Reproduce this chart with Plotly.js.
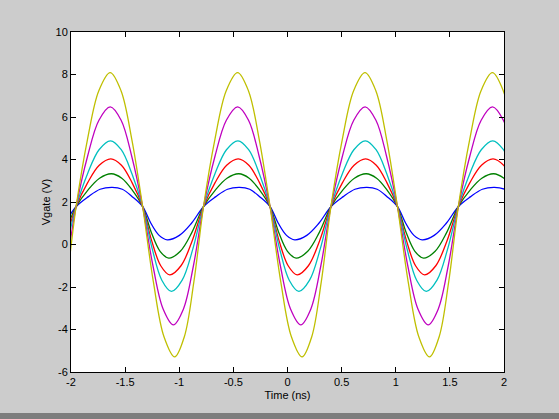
<!DOCTYPE html>
<html>
<head>
<meta charset="utf-8">
<script src="https://cdn.plot.ly/plotly-3.0.1.min.js"></script>
<style>html,body{margin:0;padding:0;background:#cccccc;}#plot{width:559px;height:419px;}</style>
</head>
<body>
<div id="plot"></div>
<script>
// Time (ns) and Vgate (V) samples, one pair per curve
const blueT = [-2.176,-2.064,-1.953,-1.842,-1.731,
  -1.620,-1.526,-1.432,-1.338,-1.262,-1.186,-1.110,-0.999,-0.887,-0.776,-0.665,-0.554,
  -0.443,-0.349,-0.255,-0.161,-0.085,-0.009,0.067,0.178,0.290,0.401,0.512,0.623,
  0.734,0.828,0.922,1.016,1.092,1.168,1.244,1.355,1.467,1.578,1.689,1.800,
  1.911,2.005,2.099];
const blueV = [0.43,1.00,1.78,2.24,2.60,
  2.69,2.60,2.24,1.78,1.00,0.43,0.22,0.43,1.00,1.78,2.24,2.60,
  2.69,2.60,2.24,1.78,1.00,0.43,0.22,0.43,1.00,1.78,2.24,2.60,
  2.69,2.60,2.24,1.78,1.00,0.43,0.22,0.43,1.00,1.78,2.24,2.60,
  2.69,2.60,2.24];

const greenT = [-2.167,-2.060,-1.953,-1.844,-1.736,
  -1.627,-1.531,-1.434,-1.338,-1.258,-1.177,-1.097,-0.990,-0.883,-0.776,-0.667,-0.559,
  -0.450,-0.354,-0.257,-0.161,-0.081,0.000,0.080,0.187,0.294,0.401,0.510,0.618,
  0.727,0.823,0.920,1.016,1.096,1.177,1.257,1.364,1.471,1.578,1.687,1.795,
  1.904,2.000,2.097];
const greenV = [-0.32,0.57,1.78,2.56,3.12,
  3.33,3.12,2.56,1.78,0.57,-0.32,-0.64,-0.32,0.57,1.78,2.56,3.12,
  3.33,3.12,2.56,1.78,0.57,-0.32,-0.64,-0.32,0.57,1.78,2.56,3.12,
  3.33,3.12,2.56,1.78,0.57,-0.32,-0.64,-0.32,0.57,1.78,2.56,3.12,
  3.33,3.12,2.56];

const redT = [-2.161,-2.057,-1.953,-1.846,-1.739,
  -1.632,-1.534,-1.436,-1.338,-1.255,-1.171,-1.088,-0.984,-0.880,-0.776,-0.669,-0.562,
  -0.455,-0.357,-0.259,-0.161,-0.078,0.006,0.089,0.193,0.297,0.401,0.508,0.615,
  0.722,0.820,0.918,1.016,1.099,1.183,1.266,1.370,1.474,1.578,1.685,1.792,
  1.899,1.997,2.095];
const redV = [-1.00,0.18,1.78,2.91,3.73,
  4.03,3.73,2.91,1.78,0.18,-1.00,-1.43,-1.00,0.18,1.78,2.91,3.73,
  4.03,3.73,2.91,1.78,0.18,-1.00,-1.43,-1.00,0.18,1.78,2.91,3.73,
  4.03,3.73,2.91,1.78,0.18,-1.00,-1.43,-1.00,0.18,1.78,2.91,3.73,
  4.03,3.73,2.91];

const cyanT = [-2.150,-2.052,-1.953,-1.847,-1.741,
  -1.635,-1.536,-1.437,-1.338,-1.249,-1.161,-1.072,-0.973,-0.875,-0.776,-0.670,-0.564,
  -0.458,-0.359,-0.260,-0.161,-0.072,0.016,0.105,0.204,0.302,0.401,0.507,0.613,
  0.719,0.818,0.917,1.016,1.105,1.193,1.282,1.381,1.479,1.578,1.684,1.790,
  1.896,1.995,2.094];
const cyanV = [-1.68,-0.22,1.78,3.33,4.46,
  4.88,4.46,3.33,1.78,-0.22,-1.68,-2.21,-1.68,-0.22,1.78,3.33,4.46,
  4.88,4.46,3.33,1.78,-0.22,-1.68,-2.21,-1.68,-0.22,1.78,3.33,4.46,
  4.88,4.46,3.33,1.78,-0.22,-1.68,-2.21,-1.68,-0.22,1.78,3.33,4.46,
  4.88,4.46,3.33];

const magentaT = [-2.138,-2.046,-1.953,-1.848,-1.742,
  -1.637,-1.537,-1.438,-1.338,-1.243,-1.149,-1.054,-0.961,-0.869,-0.776,-0.671,-0.565,
  -0.460,-0.360,-0.261,-0.161,-0.066,0.028,0.123,0.216,0.308,0.401,0.506,0.612,
  0.717,0.817,0.916,1.016,1.111,1.205,1.300,1.393,1.485,1.578,1.683,1.789,
  1.894,1.994,2.093];
const magentaV = [-3.03,-1.00,1.78,4.13,5.85,
  6.48,5.85,4.13,1.78,-1.00,-3.03,-3.78,-3.03,-1.00,1.78,4.13,5.85,
  6.48,5.85,4.13,1.78,-1.00,-3.03,-3.78,-3.03,-1.00,1.78,4.13,5.85,
  6.48,5.85,4.13,1.78,-1.00,-3.03,-3.78,-3.03,-1.00,1.78,4.13,5.85,
  6.48,5.85,4.13];

const yellowT = [-2.130,-2.042,-1.953,-1.848,-1.743,
  -1.638,-1.538,-1.438,-1.338,-1.239,-1.141,-1.042,-0.953,-0.865,-0.776,-0.671,-0.566,
  -0.461,-0.361,-0.261,-0.161,-0.062,0.036,0.135,0.224,0.312,0.401,0.506,0.611,
  0.716,0.816,0.916,1.016,1.115,1.213,1.312,1.401,1.489,1.578,1.683,1.788,
  1.893,1.993,2.093];
const yellowV = [-4.34,-1.76,1.78,4.94,7.24,
  8.09,7.24,4.94,1.78,-1.76,-4.34,-5.29,-4.34,-1.76,1.78,4.94,7.24,
  8.09,7.24,4.94,1.78,-1.76,-4.34,-5.29,-4.34,-1.76,1.78,4.94,7.24,
  8.09,7.24,4.94,1.78,-1.76,-4.34,-5.29,-4.34,-1.76,1.78,4.94,7.24,
  8.09,7.24,4.94];

const xTickVals = [-2,-1.5,-1,-0.5,0,0.5,1,1.5,2];
const xTickText = ["-2","-1.5","-1","-0.5","0","0.5","1","1.5","2"];
const yTickVals = [-6,-4,-2,0,2,4,6,8,10];
const yTickText = ["-6","-4","-2","0","2","4","6","8","10"];

const series = [
  {t: blueT, v: blueV, color: "#0000ff"},
  {t: greenT, v: greenV, color: "#008000"},
  {t: redT, v: redV, color: "#ff0000"},
  {t: cyanT, v: cyanV, color: "#00bfbf"},
  {t: magentaT, v: magentaV, color: "#bf00bf"},
  {t: yellowT, v: yellowV, color: "#bfbf00"}
];

const traces = series.map(s => ({
  x: s.t, y: s.v, type: "scatter", mode: "lines",
  line: {color: s.color, width: 1.3, shape: "spline", smoothing: 1},
  hoverinfo: "skip", showlegend: false
}));

const fontFam = "Liberation Sans, Arial, Helvetica, sans-serif";
const axisCommon = {
  showline: true, linecolor: "#000", linewidth: 1, mirror: "ticks",
  ticks: "inside", ticklen: 5, tickcolor: "#000", tickwidth: 1,
  showgrid: false, zeroline: false, tickmode: "array",
  tickfont: {family: fontFam, size: 11, color: "#000"}, fixedrange: true
};

const layout = {
  width: 559, height: 419,
  paper_bgcolor: "#cccccc", plot_bgcolor: "#ffffff",
  margin: {l: 71, r: 55, t: 32, b: 47, pad: 0},
  xaxis: Object.assign({}, axisCommon, {
    range: [-2, 2], tickvals: xTickVals, ticktext: xTickText,
    title: {text: "Time (ns)", font: {family: fontFam, size: 11, color: "#000"}, standoff: 4}
  }),
  yaxis: Object.assign({}, axisCommon, {
    range: [-6, 10], tickvals: yTickVals, ticktext: yTickText,
    title: {text: "Vgate (V)", font: {family: fontFam, size: 11, color: "#000"}, standoff: 2}
  }),
  shapes: [{
    type: "rect", xref: "paper", yref: "paper",
    x0: -71/433, x1: (433+55)/433, y0: -47/340.6, y1: -41/340.6,
    fillcolor: "#7d7d7d", line: {width: 0}, layer: "above"
  }]
};

Plotly.newPlot("plot", traces, layout, {displayModeBar: false, staticPlot: true});
</script>
</body>
</html>
